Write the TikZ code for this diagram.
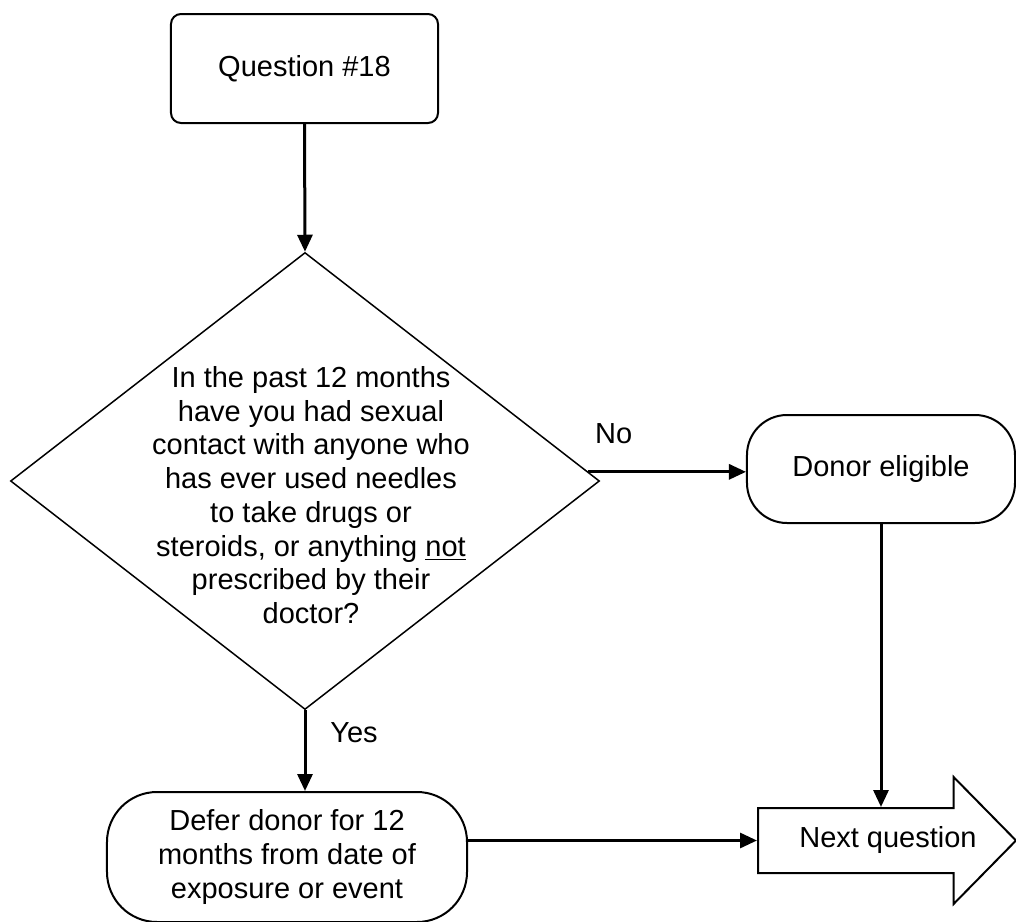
\documentclass[tikz,border=0pt]{standalone}
\usepackage{fontspec}
\setmainfont{Liberation Sans}
\usetikzlibrary{shapes.geometric,shapes.arrows,arrows.meta,calc}

\begin{document}
\begin{tikzpicture}[x=0.4pt,y=-0.4pt,
  font=\fontsize{11.6}{13.5}\selectfont,
  startbox/.style={draw,line width=0.8pt,rounded corners=4pt,minimum width=106.8pt,minimum height=43.6pt,inner sep=0pt},
  endbox/.style={draw,line width=0.8pt,inner sep=0pt,align=center},
  decision/.style={diamond,draw,line width=0.6pt,minimum width=235.6pt,minimum height=182.8pt,inner sep=0pt},
  nqarrow/.style={single arrow,draw,line width=0.8pt,minimum height=103.2pt,minimum width=50pt,
    single arrow head extend=12.4pt,single arrow tip angle=91,inner xsep=0pt,inner ysep=12.6pt},
  flow/.style={line width=1.2pt,-{Triangle[length=6.8pt,width=6pt]}}]
        \useasboundingbox (0,0) rectangle (1016,922);
        % the boxes
        \node[startbox] (q18) at (304.5,68.5) {Question \#18};
        \node[decision] (dia) at (305,481) {};
        \node[align=center] (diatext) at (311,495) {In the past 12 months\\have you had sexual\\contact with anyone who\\has ever used needles\\to take drugs or\\steroids, or anything \underline{not}\\prescribed by their\\doctor?};
        \node[endbox,rounded corners=16pt,minimum width=107.2pt,minimum height=43.2pt] (don) at (881,469) {Donor eligible};
        \node[endbox,rounded corners=20pt,minimum width=144pt,minimum height=52pt] (def) at (287,857) {Defer donor for 12\\months from date of\\exposure or event};
        \node[nqarrow,anchor=tail] (nq) at (757,840.5) {};
        \node (nqtext) at (888,840) {Next question};
        % the arrows
        \coordinate (nostart) at ($(dia.east)!0.04!(dia.north)$);
        \draw[flow] (q18.south) -- (dia.north);
        \draw[flow] (nostart) -- node[pos=0.16,yshift=15.2pt] {No} (nostart -| don.west);
        \draw[flow] (dia.south) -- node[pos=0.28,xshift=19.6pt] {Yes} (dia.south |- def.north);
        \draw[flow] (don.south) -- (don.south |- nq.before head);
        \draw[flow] (def.east |- nq.tail) -- (nq.tail);
\end{tikzpicture}
\end{document}
